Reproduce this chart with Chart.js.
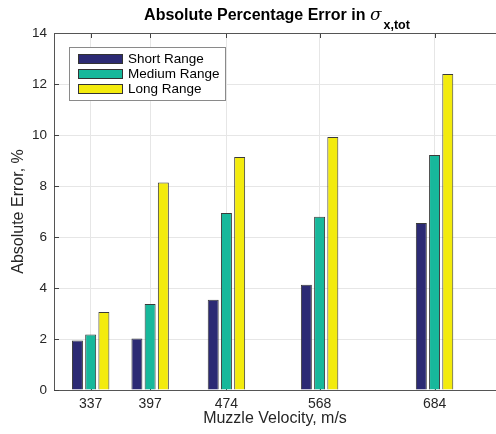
<!DOCTYPE html>
<html>
<head>
<meta charset="utf-8">
<title>Absolute Percentage Error</title>
<script src="https://cdn.jsdelivr.net/npm/chart.js@4.4.0/dist/chart.umd.min.js"></script>
<style>
  html, body { margin: 0; padding: 0; background: #fff; }
  #wrap { width: 496px; height: 434px; }
</style>
</head>
<body>
<div id="wrap"><canvas id="errChart" width="496" height="434"></canvas></div>
<script>
// Muzzle velocities (x positions, m/s)
const velocities = [337, 397, 474, 568, 684];

// Absolute error, % for each range
const shortRange = [1.94, 2.02, 3.54, 4.13, 6.55];
const mediumRange = [2.18, 3.37, 6.94, 6.79, 9.22];
const longRange = [3.06, 8.14, 9.14, 9.92, 12.39];

const seriesLabels = ['Short Range', 'Medium Range', 'Long Range'];
const seriesColors = ['#2C2A74', '#17B89B', '#F3EB0D'];
const yTicks = [0, 2, 4, 6, 8, 10, 12, 14];

const FONT = '"Liberation Sans", Arial, sans-serif';
const TEXT = '#262626';

function toPoints(values) {
    return velocities.map((v, i) => ({ x: v, y: values[i] }));
}

// title with sigma and subscript, MATLAB style
const titlePlugin = {
    id: 'texTitle',
    afterDraw(chart) {
        const ctx = chart.ctx;
        const main = 'Absolute Percentage Error in ';
        const sym = 'σ';
        const sub = 'x,tot';
        ctx.save();
        ctx.fillStyle = '#000';
        ctx.textBaseline = 'alphabetic';
        ctx.font = 'bold 16px ' + FONT;
        const w1 = ctx.measureText(main).width;
        ctx.font = 'italic 17px "DejaVu Serif", serif';
        const w2 = ctx.measureText(sym).width;
        ctx.font = 'bold 12.5px ' + FONT;
        const w3 = ctx.measureText(sub).width;
        let x = 277 - (w1 + w2 + 2 + w3) / 2;
        ctx.font = 'bold 16px ' + FONT;
        ctx.fillText(main, x, 20);
        x += w1;
        ctx.font = 'italic 17px "DejaVu Serif", serif';
        ctx.fillText(sym, x, 20);
        x += w2 + 2;
        ctx.font = 'bold 12.5px ' + FONT;
        ctx.fillText(sub, x, 29);
        ctx.restore();
    }
};

// inward tick marks + top box line
const boxTicksPlugin = {
    id: 'boxTicks',
    beforeDatasetsDraw(chart) {
        const { ctx, chartArea: a, scales } = chart;
        ctx.save();
        ctx.strokeStyle = '#404040';
        ctx.lineWidth = 1;
        ctx.beginPath();
        yTicks.forEach(t => {
            const y = Math.round(scales.y.getPixelForValue(t)) + 0.5;
            ctx.moveTo(a.left, y);
            ctx.lineTo(a.left + 5, y);
        });
        velocities.forEach(v => {
            const x = Math.round(scales.x.getPixelForValue(v)) + 0.5;
            ctx.moveTo(x, a.bottom);
            ctx.lineTo(x, a.bottom - 5);
            ctx.moveTo(x, a.top);
            ctx.lineTo(x, a.top + 5);
        });
        ctx.stroke();
        ctx.beginPath();
        ctx.strokeStyle = '#555';
        ctx.moveTo(a.left, Math.round(a.top) + 0.5);
        ctx.lineTo(a.right, Math.round(a.top) + 0.5);
        ctx.stroke();
        ctx.restore();
    }
};

// boxed legend in upper left of the axes
const boxLegendPlugin = {
    id: 'boxLegend',
    afterDatasetsDraw(chart) {
        const ctx = chart.ctx;
        const left = 69.5, top = 47.5, w = 156, h = 53;
        ctx.save();
        ctx.fillStyle = '#fff';
        ctx.fillRect(left, top, w, h);
        ctx.strokeStyle = '#8a8a8a';
        ctx.lineWidth = 1;
        ctx.strokeRect(left, top, w, h);
        ctx.font = '13.5px ' + FONT;
        ctx.textBaseline = 'middle';
        chart.data.datasets.forEach((ds, i) => {
            const y = 54 + i * 15;
            ctx.fillStyle = ds.backgroundColor;
            ctx.fillRect(78, y, 45, 10);
            ctx.strokeStyle = '#333';
            ctx.strokeRect(78.5, y + 0.5, 44, 9);
            ctx.fillStyle = '#000';
            ctx.fillText(ds.label, 128, y + 5.5);
        });
        ctx.restore();
    }
};

const ctx = document.getElementById('errChart');
const errChart = new Chart(ctx, {
    type: 'bar',
    data: {
        datasets: [shortRange, mediumRange, longRange].map((vals, i) => ({
            label: seriesLabels[i],
            data: toPoints(vals),
            backgroundColor: seriesColors[i],
            borderColor: '#3a3a3a',
            borderWidth: 1,
            categoryPercentage: 0.667,
            barPercentage: 0.83
        }))
    },
    options: {
        responsive: false,
        animation: false,
        layout: {
            padding: { top: 33, right: 0, bottom: 0, left: 0 }
        },
        plugins: {
            legend: { display: false },
            title: { display: false },
            tooltip: { enabled: false }
        },
        scales: {
            x: {
                type: 'linear',
                offset: false,
                min: 300,
                max: 746,
                afterBuildTicks: scale => {
                    scale.ticks = velocities.map(v => ({ value: v }));
                },
                afterFit: scale => { scale.height = 44; },
                grid: { color: '#e6e6e6', drawTicks: false, offset: false },
                border: { color: '#555' },
                ticks: {
                    color: TEXT,
                    font: { size: 14, family: FONT },
                    padding: 6,
                    maxRotation: 0,
                    autoSkip: false,
                    callback: v => String(v)
                },
                title: {
                    display: true,
                    text: 'Muzzle Velocity, m/s',
                    color: TEXT,
                    font: { size: 16, family: FONT },
                    padding: { top: 0, bottom: 6 }
                }
            },
            y: {
                min: 0,
                max: 14,
                afterBuildTicks: scale => {
                    scale.ticks = yTicks.map(v => ({ value: v }));
                },
                afterFit: scale => { scale.width = 54; },
                grid: { color: '#e6e6e6', drawTicks: false },
                border: { color: '#555' },
                ticks: {
                    color: TEXT,
                    font: { size: 13.5, family: FONT },
                    padding: 7
                },
                title: {
                    display: true,
                    text: 'Absolute Error, %',
                    color: TEXT,
                    font: { size: 16, family: FONT },
                    padding: { top: 9, bottom: 0 }
                }
            }
        }
    },
    plugins: [boxTicksPlugin, boxLegendPlugin, titlePlugin]
});
</script>
</body>
</html>
